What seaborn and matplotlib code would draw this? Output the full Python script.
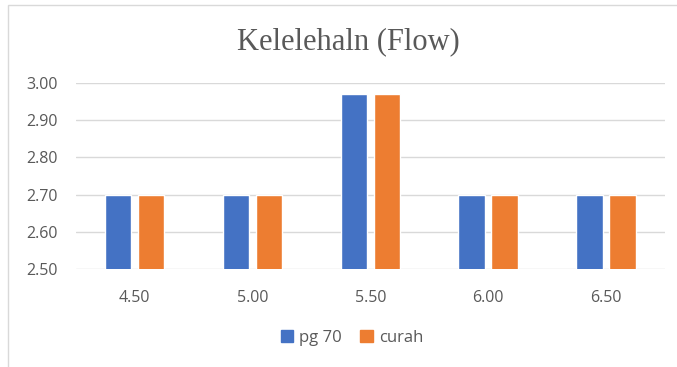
import matplotlib
matplotlib.use('Agg')
import matplotlib.pyplot as plt
import matplotlib.patches as mpatches
import seaborn as sns
import pandas as pd

# data
categories = ['4.50', '5.00', '5.50', '6.00', '6.50']
pg70 = [2.70, 2.70, 2.97, 2.70, 2.70]
curah = [2.70, 2.70, 2.97, 2.70, 2.70]
series_names = ['pg 70', 'curah']
colors = ['#4472C4', '#ED7D31']

df = pd.DataFrame({
    'cat': categories * 2,
    'val': pg70 + curah,
    'series': [series_names[0]] * len(categories) + [series_names[1]] * len(categories),
})

sns.set_style('white')
plt.rcParams['font.family'] = ['Open Sans', 'DejaVu Sans']

fig = plt.figure(figsize=(6.77, 3.67), dpi=100)
ax = fig.add_axes([0.112, 0.267, 0.870, 0.507])

sns.barplot(data=df, x='cat', y='val', hue='series', order=categories,
            palette=colors, width=0.56, gap=0.2, ax=ax, legend=False,
            saturation=1)

ax.set_ylim(2.50, 3.00)
ax.set_yticks([2.50, 2.60, 2.70, 2.80, 2.90, 3.00])
ax.set_yticklabels(['%.2f' % v for v in ax.get_yticks()])
ax.yaxis.grid(True, color='#D9D9D9', linewidth=1)
ax.set_axisbelow(True)
for s in ax.spines.values():
    s.set_visible(False)
ax.tick_params(axis='both', length=0, labelsize=11.5, labelcolor='#595959')
ax.tick_params(axis='y', pad=13)
ax.tick_params(axis='x', pad=15)
ax.set_xlabel('')
ax.set_ylabel('')

fig.text(0.515, 0.885, 'Kelelehaln (Flow)', ha='center', va='center',
         family='Liberation Serif', fontsize=22, color='#595959')

handles = [mpatches.Patch(color=c, label=n) for c, n in zip(colors, series_names)]
fig.legend(handles=handles, loc='center', bbox_to_anchor=(0.52, 0.08), ncol=2,
           frameon=False, fontsize=12, labelcolor='#595959',
           handlelength=0.75, handleheight=0.75, handletextpad=0.35, columnspacing=1.1)

# chart frame (left and top edges visible)
fig.add_artist(mpatches.Rectangle((8 / 677, -0.05), 1.1, 1.05 - 5 / 367,
                                  transform=fig.transFigure, fill=False,
                                  edgecolor='#D9D9D9', linewidth=1))

fig.savefig('out.png', dpi=100)
